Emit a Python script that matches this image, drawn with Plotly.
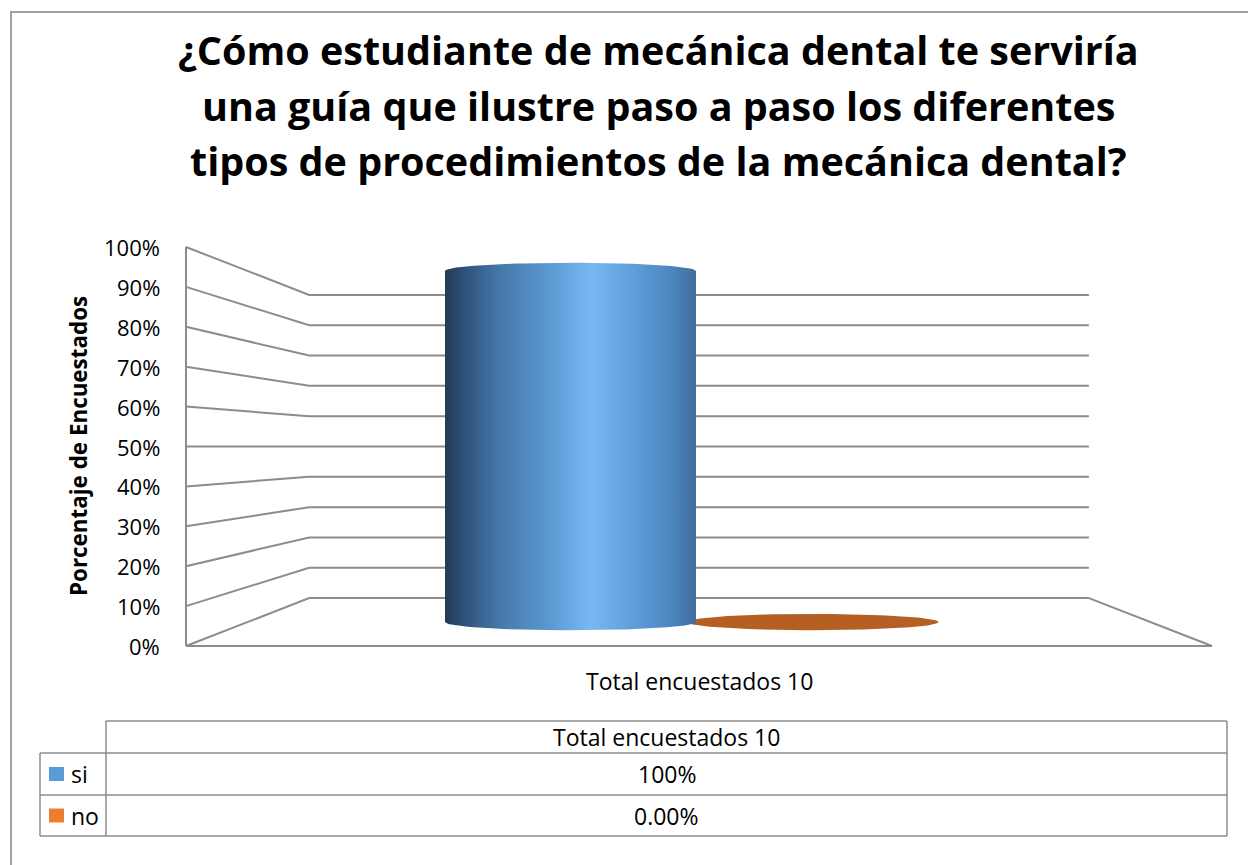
import numpy as np
import plotly.graph_objects as go

# ---------------- data ----------------
title_lines = [
    "¿Cómo estudiante de mecánica dental te serviría",
    "una guía que ilustre paso a paso los diferentes",
    "tipos de procedimientos de la mecánica dental?",
]
category = "Total encuestados 10"
series_names = ["si", "no"]
series_values = [100.0, 0.0]          # percent
table_values = ["100%", "0.00%"]
y_ticks = [0, 10, 20, 30, 40, 50, 60, 70, 80, 90, 100]
y_tick_labels = [f"{t}%" for t in y_ticks]
axis_title = "Porcentaje de Encuestados"

# ---------------- styling / layout constants ----------------
W, H = 1248, 865
FONT = "Open Sans"
GRID = "#8c8c8c"
LEGEND_COLORS = ["#5B9BD5", "#ED7D31"]
BLUE_SCALE = [[0.0, "#223a52"], [0.08, "#30537a"], [0.22, "#4679aa"],
              [0.40, "#5896cf"], [0.58, "#77b8f3"], [0.75, "#5e9ed9"],
              [0.90, "#4d86bf"], [1.0, "#3f6e9e"]]
ORANGE_TOP = "#b55f22"
TITLE_SIZE, TICK_SIZE, AXT_SIZE, TXT_SIZE = 39.5, 22, 22.4, 23

# pseudo-3D projection (front plane d=0, back plane d=1)
X0, YV = 699.0, 446.5       # vanishing centre (x) and 50% level
FRONT_W, FRONT_H = 1026.0, 3.99
SHRINK = 0.24
BAR_DEPTH = 0.5
GROUP_CENTER, SERIES_STEP, BAR_W = 0.492, 0.2686, 0.278
RY_RATIO = 0.065


def proj(u, v, d):
    s = 1 - SHRINK * d
    return X0 + (u - 0.5) * FRONT_W * s, YV - (v - 50) * FRONT_H * s


fig = go.Figure()

# ---------------- walls & gridlines ----------------
gx, gy = [], []
for t in y_ticks:
    for (u, d) in [(0, 0), (0, 1), (1, 1)]:
        x, y = proj(u, t, d)
        gx.append(x); gy.append(y)
    gx.append(None); gy.append(None)
for pts in [[(0, 0, 0), (1, 0, 0), (1, 0, 1)], [(0, 0, 0), (0, 100, 0)]]:
    for (u, v, d) in pts:
        x, y = proj(u, v, d)
        gx.append(x); gy.append(y)
    gx.append(None); gy.append(None)
fig.add_trace(go.Scatter(x=gx, y=gy, mode="lines", line=dict(color=GRID, width=2),
                         hoverinfo="skip", showlegend=False))

# ---------------- cylinders ----------------
n = len(series_values)
centers = [GROUP_CENTER + (i - (n - 1) / 2) * SERIES_STEP for i in range(n)]
th = np.linspace(0, np.pi, 60)
for i in reversed(range(n)):
    v = series_values[i]
    cx, yb = proj(centers[i], 0, BAR_DEPTH)
    _, yt = proj(centers[i], v, BAR_DEPTH)
    rx = BAR_W * FRONT_W * (1 - SHRINK * BAR_DEPTH) / 2
    ry = rx * RY_RATIO
    if v > 0:
        xs = list(cx - rx * np.cos(th)) + list(cx + rx * np.cos(th))
        ys = list(yt - ry * np.sin(th)) + list(yb + ry * np.sin(th))
        xs.append(xs[0]); ys.append(ys[0])
        fig.add_trace(go.Scatter(x=xs, y=ys, mode="lines", line=dict(width=0),
                                 fill="toself",
                                 fillgradient=dict(type="horizontal", colorscale=BLUE_SCALE),
                                 hoverinfo="skip", showlegend=False))
    else:
        t2 = np.linspace(0, 2 * np.pi, 120)
        fig.add_trace(go.Scatter(x=cx + rx * np.cos(t2), y=yt + ry * np.sin(t2),
                                 mode="lines", line=dict(width=0), fill="toself",
                                 fillcolor=ORANGE_TOP, hoverinfo="skip", showlegend=False))

annotations = []
# ---------------- title ----------------
TITLE_Y = [50, 106, 161]
for line, ty in zip(title_lines, TITLE_Y):
    annotations.append(dict(x=658, y=ty, text=f"<b>{line}</b>", showarrow=False,
                            xanchor="center", yanchor="middle",
                            font=dict(family=FONT, size=TITLE_SIZE, color="#000000")))

# ---------------- y tick labels & axis title ----------------
for t, lab in zip(y_ticks, y_tick_labels):
    x, y = proj(0, t, 0)
    annotations.append(dict(x=x - 24, y=y, text=lab, showarrow=False, xanchor="right",
                            yanchor="middle", font=dict(family=FONT, size=TICK_SIZE, color="#000")))
annotations.append(dict(x=78, y=446, text=f"<b>{axis_title}</b>", textangle=-90,
                        showarrow=False, xanchor="center", yanchor="middle",
                        font=dict(family=FONT, size=AXT_SIZE, color="#000")))
cxl, _ = proj(0.5, 0, 0)
annotations.append(dict(x=cxl, y=681, text=category, showarrow=False, xanchor="center",
                        yanchor="middle", font=dict(family=FONT, size=TXT_SIZE, color="#000")))

# ---------------- data table ----------------
T_LEFT, T_COL, T_RIGHT = 40, 106, 1227
ROWS = [721, 753, 795, 836]
shapes = []
def hline(x0, x1, y):
    shapes.append(dict(type="line", xref="x", yref="y", x0=x0, x1=x1, y0=y, y1=y,
                       line=dict(color=GRID, width=1.5)))
def vline(x, y0, y1):
    shapes.append(dict(type="line", xref="x", yref="y", x0=x, x1=x, y0=y0, y1=y1,
                       line=dict(color=GRID, width=1.5)))
hline(T_COL, T_RIGHT, ROWS[0])
for r in ROWS[1:]:
    hline(T_LEFT, T_RIGHT, r)
vline(T_LEFT, ROWS[1], ROWS[3])
vline(T_COL, ROWS[0], ROWS[3])
vline(T_RIGHT, ROWS[0], ROWS[3])

mid_col = (T_COL + T_RIGHT) / 2
annotations.append(dict(x=mid_col, y=(ROWS[0] + ROWS[1]) / 2, text=category, showarrow=False,
                        xanchor="center", yanchor="middle",
                        font=dict(family=FONT, size=TXT_SIZE, color="#000")))
for i, (name, val) in enumerate(zip(series_names, table_values)):
    yc = (ROWS[i + 1] + ROWS[i + 2]) / 2
    shapes.append(dict(type="rect", xref="x", yref="y", x0=49, x1=64, y0=yc - 7, y1=yc + 7,
                       fillcolor=LEGEND_COLORS[i], line=dict(width=0)))
    annotations.append(dict(x=69, y=yc, text=name, showarrow=False, xanchor="left",
                            yanchor="middle", font=dict(family=FONT, size=TXT_SIZE, color="#000")))
    annotations.append(dict(x=mid_col, y=yc, text=val, showarrow=False, xanchor="center",
                            yanchor="middle", font=dict(family=FONT, size=TXT_SIZE, color="#000")))

# outer chart border
shapes.append(dict(type="rect", xref="x", yref="y", x0=11, y0=12, x1=W + 20, y1=H + 20,
                   line=dict(color="#a0a0a0", width=2), fillcolor="rgba(0,0,0,0)", layer="below"))

fig.update_layout(
    width=W, height=H, margin=dict(l=0, r=0, t=0, b=0),
    paper_bgcolor="white", plot_bgcolor="white",
    xaxis=dict(range=[0, W], visible=False, fixedrange=True),
    yaxis=dict(range=[H, 0], visible=False, fixedrange=True),
    annotations=annotations, shapes=shapes, showlegend=False,
)
fig.write_html("out.html", config={"displayModeBar": False},
               post_script="document.body.style.margin='0';document.body.style.overflow='hidden';")
